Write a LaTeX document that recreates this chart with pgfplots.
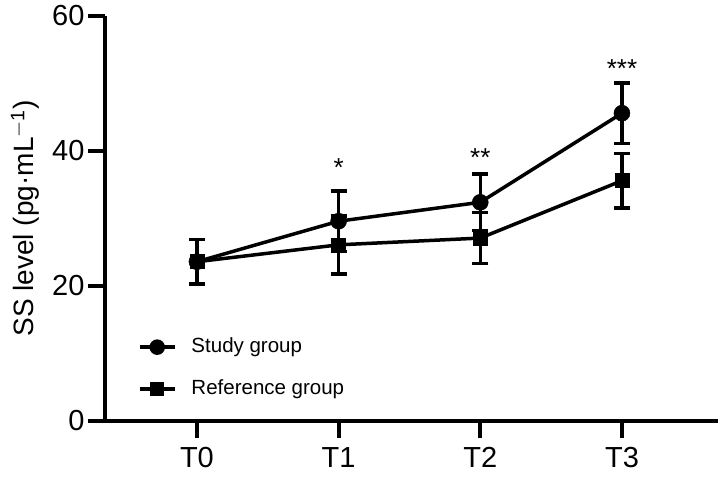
\documentclass[border=0pt]{standalone}
\usepackage{fontspec}
\setmainfont{Liberation Sans}
\usepackage{pgfplots}
\pgfplotsset{compat=1.18}
\begin{document}
\begin{tikzpicture}
\begin{axis}[
  at={(105pt,59pt)}, anchor=south west,
  scale only axis,
  width=613pt, height=405pt,
  xmin=-0.649, xmax=3.678,
  ymin=0, ymax=60,
  axis x line*=bottom, axis y line*=left,
  axis line style={line width=4pt, -},
  xtick={0,1,2,3},
  xticklabels={T0,T1,T2,T3},
  ytick={0,20,40,60},
  tick align=outside,
  major tick length=17pt,
  tick style={line width=4pt, black},
  /pgf/number format/assume math mode=true,
  ticklabel style={font=\fontsize{29}{34}\selectfont},
  xticklabel style={yshift=-6pt},
  ylabel={SS level (pg·mL$^{\mathrm{-1}}$)},
  every axis y label/.style={at={(axis description cs:-0.1305,0.5)},rotate=90,anchor=center,font=\fontsize{28}{34}\selectfont},
  clip=false,
  legend style={
    draw=none, fill=none, inner sep=0pt, outer sep=0pt,
    at={(axis description cs:0.0538,0.207)}, anchor=north west,
    font=\fontsize{20.5}{24}\selectfont,
    nodes={inner sep=0pt, text height=15pt, text depth=5pt},
    row sep=22pt, column sep=15pt,
  },
  legend cell align=left,
  legend image code/.code={
    \draw[#1, mark options={scale=0.75}, mark repeat=2, mark phase=2] plot coordinates {(0pt,0pt) (17.5pt,0pt) (35pt,0pt)};
  },
]
\addplot+[black, line width=3.5pt, mark=*, mark size=8pt, mark options={fill=black, line width=0.5pt},
  error bars/.cd, y dir=both, y explicit,
  error bar style={line width=3.5pt, black},
  error mark options={rotate=90, mark size=8pt, line width=3.5pt, black}]
  coordinates {
  (0,23.6) +- (0,3.3)
  (1,29.6) +- (0,4.5)
  (2,32.4) +- (0,4.2)
  (3,45.6) +- (0,4.5)
  };
\addlegendentry{Study group}
\addplot+[black, line width=3.5pt, mark=square*, mark size=7pt, mark options={fill=black, line width=0.5pt},
  error bars/.cd, y dir=both, y explicit,
  error bar style={line width=3.5pt, black},
  error mark options={rotate=90, mark size=8pt, line width=3.5pt, black}]
  coordinates {
  (0,23.6) +- (0,3.3)
  (1,26.1) +- (0,4.3)
  (2,27.1) +- (0,3.8)
  (3,35.6) +- (0,4.05)
  };
\addlegendentry{Reference group}
\node[anchor=base, font=\fontsize{26}{30}\selectfont, inner sep=0pt] at (axis cs:1,36.2) {*};
\node[anchor=base, font=\fontsize{26}{30}\selectfont, inner sep=0pt] at (axis cs:2,37.7) {**};
\node[anchor=base, font=\fontsize{26}{30}\selectfont, inner sep=0pt] at (axis cs:3,50.9) {***};
\end{axis}
\pgfresetboundingbox
\useasboundingbox (0,0) rectangle (721pt,480pt);
\end{tikzpicture}
\end{document}
